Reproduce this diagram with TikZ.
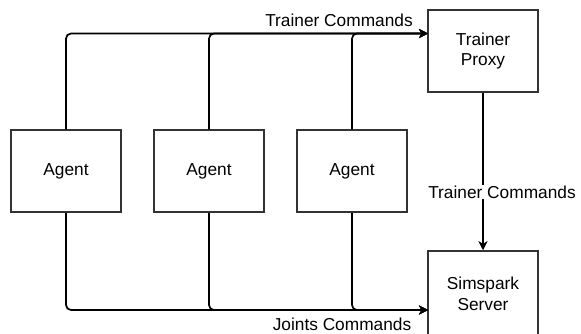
\documentclass[tikz,border=0pt]{standalone}
\usepackage{fontspec}
\setmainfont{Liberation Sans}
\usetikzlibrary{arrows.meta}
\begin{document}
\begin{tikzpicture}[x=1pt,y=-1pt,
  box/.style={draw=black!80,line width=1.5pt,fill=white,minimum width=110pt,minimum height=82pt,inner sep=0pt,align=center,font=\fontsize{17.3}{20.5}\selectfont},
  conn/.style={line width=1.7pt,rounded corners=5pt},
  arr/.style={-{Stealth[length=9pt,width=9pt,inset=2.5pt]}},
  lbl/.style={font=\fontsize{17.3}{20.5}\selectfont,inner sep=1pt}]
\useasboundingbox (0,0) rectangle (581,333);
\begin{scope}
\clip (0,0) rectangle (581,333);
\node[box] (a1) at (66,171) {Agent};
\node[box] (a2) at (209,171) {Agent};
\node[box] (a3) at (352,171) {Agent};
\node[box] (tp) at (483,51) {Trainer\\Proxy};
\node[box,minimum height=86pt] (ss) at (483,294) {Simspark\\Server};
\coordinate (tin) at (428,33.5);
\coordinate (sin) at (428,310);
\draw[conn,arr] (a1.north) |- (tin);
\draw[conn,arr] (a2.north) |- (tin);
\draw[conn,arr] (a3.north) |- (tin);
\draw[conn,arr] (a1.south) |- (sin);
\draw[conn,arr] (a2.south) |- (sin);
\draw[conn,arr] (a3.south) |- (sin);
\draw[conn,arr] (tp.south) -- (ss.north);
\node[lbl,fill=white] (l2) at (502,192) {Trainer Commands};
\node[lbl] (l1) at (339,20) {Trainer Commands};
\node[lbl] (l3) at (342,324) {Joints Commands};
\end{scope}
\end{tikzpicture}
\end{document}
